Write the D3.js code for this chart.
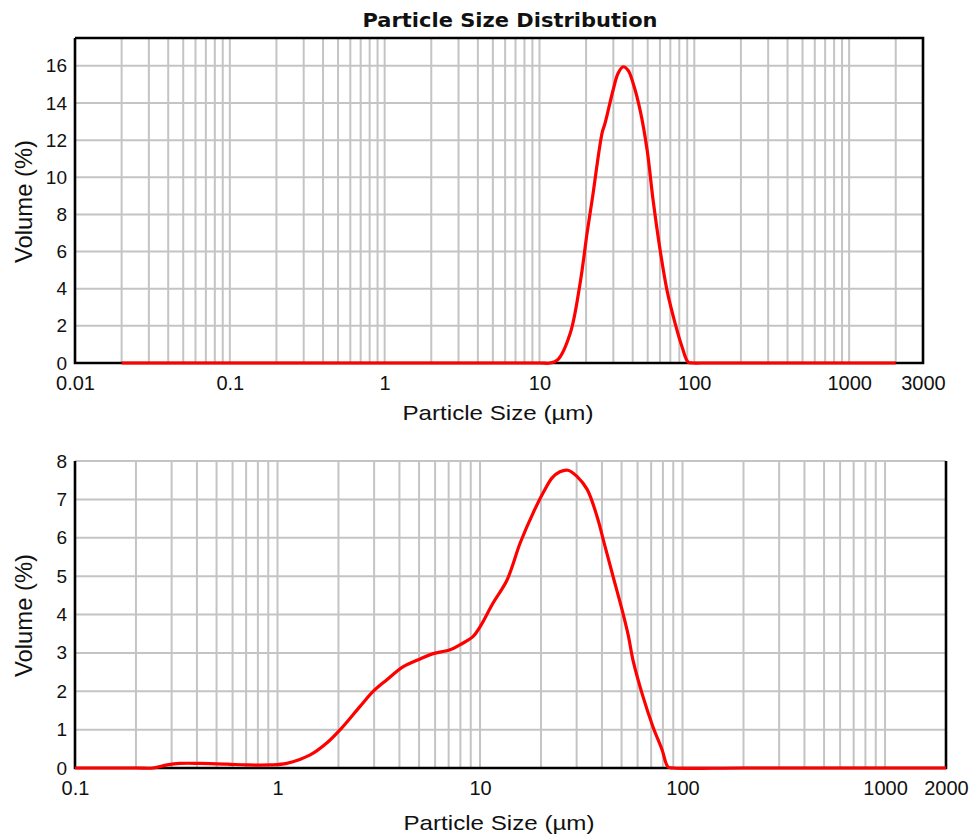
<!DOCTYPE html>
<html>
<head>
<meta charset="utf-8">
<script src="https://d3js.org/d3.v7.min.js"></script>
<style>
  body { margin: 0; background: #fff; }
  text { font-family: "Liberation Sans", Arial, sans-serif; fill: #111; }
</style>
</head>
<body>
<div id="chart"></div>
<script>
// Top panel data (sizes in µm, volume in %)
const topSizes = [0.02, 1, 10, 11.7, 13.2, 15.8, 18.3, 20.3, 21.9, 25.4, 26.5, 29.9, 32.2, 34.7, 37.4, 40.3, 44.7, 49.6, 54.2, 60.1, 66.7, 75.1, 83.4, 91.2, 98.2, 110, 1000, 2000];
const topVolumes = [0, 0, 0, 0, 0.2, 1.6, 4.3, 7.0, 8.8, 12.4, 12.9, 14.7, 15.6, 15.95, 15.75, 15.05, 13.6, 11.45, 8.76, 6.1, 3.9, 2.15, 0.86, 0.05, 0, 0, 0, 0];
const topXTicks = [0.01, 0.1, 1, 10, 100, 1000, 3000];
const topXLabels = ["0.01", "0.1", "1", "10", "100", "1000", "3000"];
const topYTicks = [0, 2, 4, 6, 8, 10, 12, 14, 16];

// Bottom panel data
const botSizes = [0.1, 0.2, 0.243, 0.285, 0.33, 0.414, 0.563, 0.707, 0.918, 1.11, 1.45, 1.75, 2.04, 2.55, 2.96, 3.47, 4.18, 5.06, 5.87, 7.11, 7.96, 9.25, 10, 11.6, 13.6, 15.8, 18.3, 20.5, 22.7, 24.8, 27.2, 30.1, 33.8, 37.8, 41.4, 45.4, 50.3, 54, 57, 63.8, 71.5, 79.3, 84.7, 90, 200, 1000, 2000];
const botVolumes = [0, 0, 0, 0.08, 0.12, 0.12, 0.1, 0.08, 0.08, 0.12, 0.34, 0.65, 1.0, 1.6, 1.99, 2.3, 2.64, 2.84, 2.98, 3.08, 3.21, 3.43, 3.68, 4.3, 4.9, 5.87, 6.65, 7.17, 7.56, 7.72, 7.76, 7.6, 7.26, 6.56, 5.78, 4.99, 4.12, 3.45, 2.8, 1.86, 1.07, 0.47, 0.03, 0, 0, 0, 0];
const botXTicks = [0.1, 1, 10, 100, 1000, 2000];
const botXLabels = ["0.1", "1", "10", "100", "1000", "2000"];
const botYTicks = [0, 1, 2, 3, 4, 5, 6, 7, 8];

const svg = d3.select("#chart").append("svg")
    .attr("width", 976)
    .attr("height", 838);

// title
svg.append("text")
    .attr("x", 510).attr("y", 27)
    .attr("text-anchor", "middle")
    .attr("textLength", 295)
    .attr("lengthAdjust", "spacingAndGlyphs")
    .style("font-family", "'DejaVu Sans', Verdana, sans-serif")
    .style("font-size", "20px")
    .style("font-weight", "bold")
    .text("Particle Size Distribution");

function drawPanel(opts) {
    const x = d3.scaleLog().domain(opts.xDomain).range([opts.left, opts.right]);
    const y = d3.scaleLinear().domain(opts.yDomain).range([opts.bottom, opts.top]);
    const g = svg.append("g");

    // vertical grid: every 1..9 multiple inside the domain
    const vGrid = x.ticks().filter(d => d > opts.xDomain[0] * 1.0001 && d < opts.xDomain[1] * 0.9999);
    g.selectAll(".vgrid").data(vGrid).enter().append("line")
        .attr("x1", d => x(d)).attr("x2", d => x(d))
        .attr("y1", y(opts.yDomain[1])).attr("y2", y(0))
        .attr("stroke", "#c4c4c4").attr("stroke-width", 2);

    // horizontal grid
    g.selectAll(".hgrid").data(opts.yTicks.filter(d => d > 0)).enter().append("line")
        .attr("x1", opts.left).attr("x2", opts.right)
        .attr("y1", d => y(d)).attr("y2", d => y(d))
        .attr("stroke", "#c4c4c4").attr("stroke-width", 2);

    // frame
    const frame = [[opts.left, y(opts.yDomain[1])], [opts.left, opts.bottom], [opts.right, opts.bottom], [opts.right, y(opts.yDomain[1])]];
    if (opts.closedTop) frame.push([opts.left, y(opts.yDomain[1])]);
    g.append("path")
        .attr("d", d3.line()(frame))
        .attr("fill", "none").attr("stroke", "#000").attr("stroke-width", 2.6);

    // axes
    const xAxis = g.append("g")
        .attr("transform", `translate(0,${opts.bottom})`)
        .call(d3.axisBottom(x).tickValues(opts.xTicks).tickSize(0).tickPadding(13)
            .tickFormat((d, i) => opts.xLabels[i]));
    const yAxis = g.append("g")
        .attr("transform", `translate(${opts.left},0)`)
        .call(d3.axisLeft(y).tickValues(opts.yTicks).tickSize(0).tickPadding(8));
    [xAxis, yAxis].forEach(a => {
        a.select(".domain").remove();
        a.selectAll("text").attr("fill", "#111")
            .style("font-family", "'Liberation Sans', Arial, sans-serif");
    });
    xAxis.selectAll("text").style("font-size", "20px");
    yAxis.selectAll("text").style("font-size", "19px");

    // axis titles
    g.append("text")
        .attr("x", opts.xLabelX).attr("y", opts.xLabelY)
        .attr("text-anchor", "middle")
        .attr("textLength", 191)
        .attr("lengthAdjust", "spacingAndGlyphs")
        .style("font-size", "21px")
        .text("Particle Size (µm)");
    g.append("text")
        .attr("transform", `translate(32,${(opts.top + opts.bottom) / 2 + 1}) rotate(-90)`)
        .attr("text-anchor", "middle")
        .attr("textLength", 123)
        .attr("lengthAdjust", "spacingAndGlyphs")
        .style("font-size", "24px")
        .text("Volume (%)");

    // curve
    const pts = opts.sizes.map((s, i) => [s, opts.volumes[i]]);
    g.append("path")
        .datum(pts)
        .attr("d", d3.line().x(d => x(d[0])).y(d => y(d[1])).curve(d3.curveCatmullRom.alpha(0.5)))
        .attr("fill", "none")
        .attr("stroke", "#ff0000")
        .attr("stroke-width", 3.2)
        .attr("stroke-linejoin", "round");
}

drawPanel({
    xDomain: [0.01, 3000], yDomain: [0, 17.5],
    left: 75, right: 923, top: 38, bottom: 363,
    xTicks: topXTicks, xLabels: topXLabels, yTicks: topYTicks,
    sizes: topSizes, volumes: topVolumes,
    closedTop: true, xLabelX: 498, xLabelY: 420
});

drawPanel({
    xDomain: [0.1, 2000], yDomain: [0, 8],
    left: 75, right: 946, top: 461, bottom: 768,
    xTicks: botXTicks, xLabels: botXLabels, yTicks: botYTicks,
    sizes: botSizes, volumes: botVolumes,
    closedTop: false, xLabelX: 499, xLabelY: 830
});
</script>
</body>
</html>
